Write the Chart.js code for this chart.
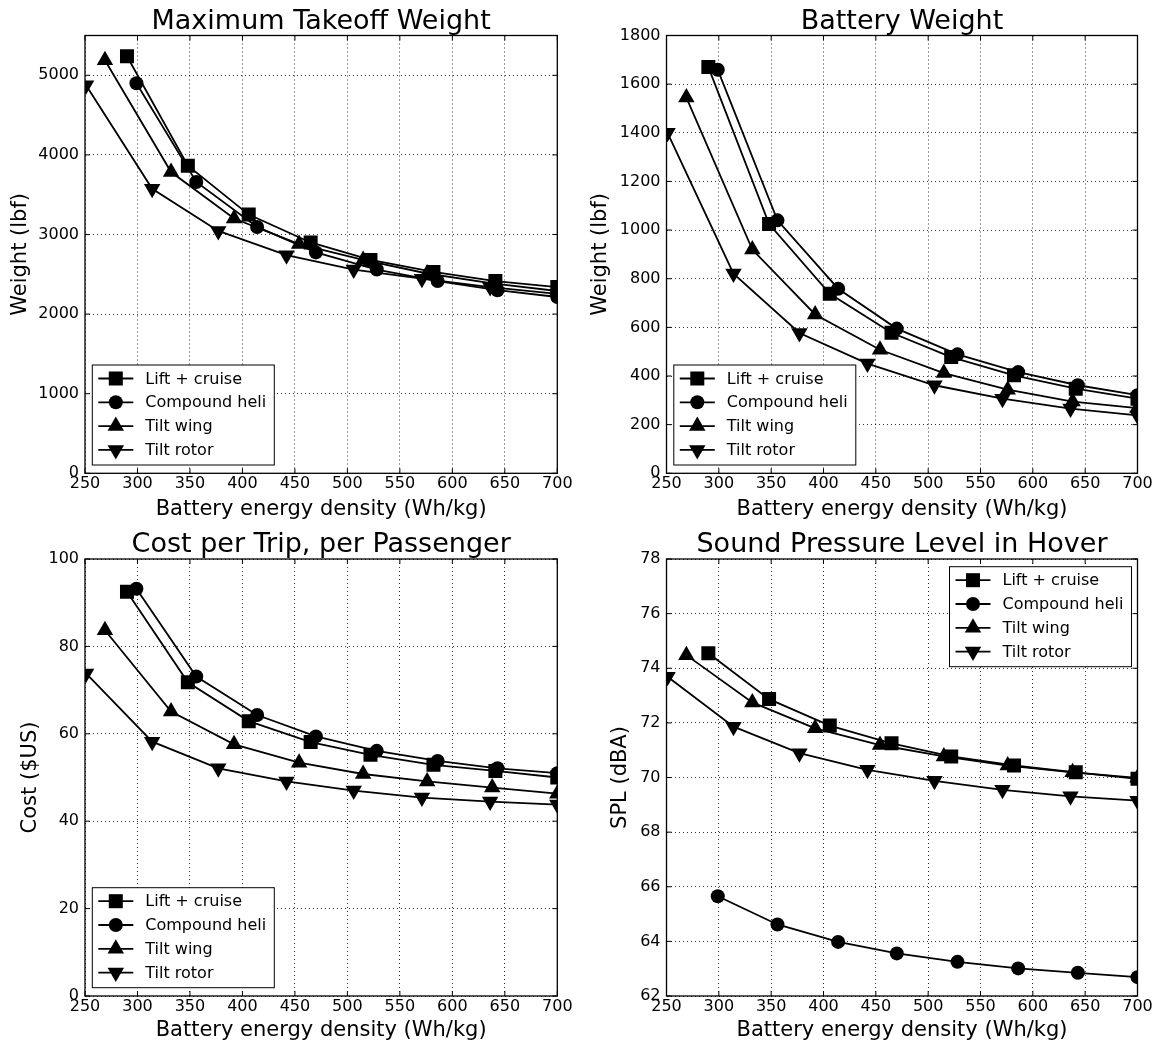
<!DOCTYPE html>
<html><head><meta charset="utf-8">
<script src="https://cdn.jsdelivr.net/npm/chart.js@4.4.1/dist/chart.umd.min.js"></script>
<style>
html,body{margin:0;padding:0;background:#fff;}
#wrap{position:relative;width:1158px;height:1046px;overflow:hidden;background:#fff;}
canvas{position:absolute;}
</style></head><body>
<div id="wrap">
<canvas id="c1" width="579" height="523" style="left:0px;top:0px"></canvas>
<canvas id="c2" width="579" height="523" style="left:579px;top:0px"></canvas>
<canvas id="c3" width="579" height="523" style="left:0px;top:523px"></canvas>
<canvas id="c4" width="579" height="523" style="left:579px;top:523px"></canvas>
</div>
<script>
// ---- data ----
const seriesNames = ['Lift + cruise', 'Compound heli', 'Tilt wing', 'Tilt rotor'];
const xLift  = [290, 348, 406, 465, 522, 582, 641, 700];
const xHeli  = [299, 356, 414, 470, 528, 586, 643, 700];
const xWing  = [269, 332, 392, 454, 515, 576, 638, 700];
const xRotor = [251, 314, 377, 442, 506, 571, 636, 700];
const xTicks = [250, 300, 350, 400, 450, 500, 550, 600, 650, 700];

const mtowLift  = [5240, 3865, 3250, 2900, 2680, 2530, 2415, 2340];
const mtowHeli  = [4900, 3660, 3095, 2775, 2560, 2415, 2300, 2215];
const mtowWing  = [5190, 3785, 3200, 2880, 2680, 2510, 2385, 2290];
const mtowRotor = [4875, 3575, 3045, 2740, 2560, 2445, 2340, 2255];
const mtowTicks = [0, 1000, 2000, 3000, 4000, 5000];

const battLift  = [1670, 1025, 738, 578, 478, 403, 348, 307];
const battHeli  = [1659, 1040, 759, 595, 489, 416, 362, 321];
const battWing  = [1545, 920, 653, 508, 412, 344, 295, 268];
const battRotor = [1400, 821, 577, 451, 362, 307, 266, 238];
const battTicks = [0, 200, 400, 600, 800, 1000, 1200, 1400, 1600, 1800];

const costLift  = [92.5, 71.8, 62.9, 58.1, 55.2, 52.9, 51.5, 50.0];
const costHeli  = [93.2, 73.1, 64.3, 59.4, 56.1, 53.8, 52.1, 51.0];
const costWing  = [83.7, 65.1, 57.6, 53.4, 50.8, 49.1, 47.7, 46.3];
const costRotor = [73.8, 58.2, 52.1, 49.1, 47.0, 45.4, 44.5, 43.8];
const costTicks = [0, 20, 40, 60, 80, 100];

const splLift  = [74.55, 72.87, 71.90, 71.25, 70.77, 70.44, 70.19, 69.95];
const splHeli  = [65.65, 64.62, 63.98, 63.56, 63.25, 63.01, 62.85, 62.69];
const splWing  = [74.48, 72.75, 71.80, 71.19, 70.77, 70.44, 70.19, 69.99];
const splRotor = [73.69, 71.86, 70.89, 70.28, 69.88, 69.55, 69.31, 69.15];
const splTicks = [62, 64, 66, 68, 70, 72, 74, 76, 78];

// ---- styling ----
const FONT = 'DejaVu Sans';
const markers = [
  {style: 'rect', r: 9.9, rot: 0},
  {style: 'circle', r: 7, rot: 0},
  {style: 'triangle', r: 9.5, rot: 0},
  {style: 'triangle', r: 9.5, rot: 180}
];

function drawShape(ctx, m, x, y) {
  ctx.beginPath();
  if (m.style === 'rect') {
    const s = Math.SQRT1_2 * m.r;
    ctx.rect(x - s, y - s, 2 * s, 2 * s);
  } else if (m.style === 'circle') {
    ctx.arc(x, y, m.r, 0, Math.PI * 2);
  } else {
    let rad = m.rot * Math.PI / 180;
    ctx.moveTo(x + Math.sin(rad) * m.r, y - Math.cos(rad) * m.r);
    rad += 2 * Math.PI / 3;
    ctx.lineTo(x + Math.sin(rad) * m.r, y - Math.cos(rad) * m.r);
    rad += 2 * Math.PI / 3;
    ctx.lineTo(x + Math.sin(rad) * m.r, y - Math.cos(rad) * m.r);
    ctx.closePath();
  }
  ctx.fill();
}

const frameTicks = {
  id: 'frameTicks',
  afterDatasetsDraw(chart, args, opts) {
    const {ctx, chartArea: a, scales: {x, y}} = chart;
    ctx.save();
    ctx.strokeStyle = '#000';
    ctx.lineWidth = 1;
    const L = 5;
    ctx.beginPath();
    x.ticks.forEach(t => {
      const px = x.getPixelForValue(t.value);
      ctx.moveTo(px, a.bottom); ctx.lineTo(px, a.bottom - L);
      ctx.moveTo(px, a.top); ctx.lineTo(px, a.top + L);
    });
    y.ticks.forEach(t => {
      const py = y.getPixelForValue(t.value);
      ctx.moveTo(a.left, py); ctx.lineTo(a.left + L, py);
      ctx.moveTo(a.right, py); ctx.lineTo(a.right - L, py);
    });
    ctx.stroke();
    ctx.lineWidth = 1.3;
    ctx.strokeRect(a.left, a.top, a.right - a.left, a.bottom - a.top);
    ctx.restore();
  },
  afterDraw(chart, args, opts) {
    const {ctx, chartArea: a} = chart;
    ctx.save();
    // title
    ctx.fillStyle = '#000';
    ctx.font = '27px "' + FONT + '"';
    ctx.textAlign = 'center';
    ctx.textBaseline = 'alphabetic';
    ctx.fillText(opts.title, (a.left + a.right) / 2, a.top - 7);
    // legend
    const W = 182, H = 100;
    let bx, by;
    if (opts.legend === 'lowerleft') { bx = a.left + 7.3; by = a.bottom - 8.3 - H; }
    else { bx = a.right - 6 - W; by = a.top + 7.7; }
    ctx.fillStyle = '#fff';
    ctx.fillRect(bx, by, W, H);
    ctx.strokeStyle = '#000';
    ctx.lineWidth = 1;
    ctx.strokeRect(bx, by, W, H);
    ctx.font = '16px "' + FONT + '"';
    ctx.textAlign = 'left';
    ctx.textBaseline = 'middle';
    seriesNames.forEach((name, i) => {
      const yy = by + 13.5 + i * 23.8;
      ctx.strokeStyle = '#000';
      ctx.lineWidth = 1.8;
      ctx.beginPath();
      ctx.moveTo(bx + 6, yy); ctx.lineTo(bx + 41, yy);
      ctx.stroke();
      ctx.fillStyle = '#000';
      drawShape(ctx, markers[i], bx + 23.5, yy);
      ctx.fillText(name, bx + 53, yy + 1);
    });
    ctx.restore();
  }
};

function makeChart(id, cfg) {
  const xs = [xLift, xHeli, xWing, xRotor];
  const datasets = cfg.ys.map((ys, i) => ({
    label: seriesNames[i],
    data: xs[i].map((xv, j) => ({x: xv, y: ys[j]})),
    borderColor: '#000',
    backgroundColor: '#000',
    borderWidth: 1.8,
    pointStyle: markers[i].style,
    pointRadius: markers[i].r,
    pointRotation: markers[i].rot,
    pointBorderWidth: 0,
    pointHoverRadius: markers[i].r,
    tension: 0,
    clip: 0,
    order: 4 - i
  }));
  return new Chart(document.getElementById(id), {
    type: 'line',
    data: {datasets},
    options: {
      responsive: false,
      animation: false,
      events: [],
      layout: {padding: {left: 0, top: cfg.top, right: cfg.right, bottom: 0}},
      plugins: {
        legend: {display: false},
        tooltip: {enabled: false},
        frameTicks: {title: cfg.title, legend: cfg.legend}
      },
      scales: {
        x: {
          type: 'linear', min: 250, max: 700,
          afterBuildTicks: s => { s.ticks = xTicks.map(v => ({value: v})); },
          afterFit: s => { s.height = cfg.xh; },
          grid: {color: '#000', lineWidth: 0.8, drawTicks: false},
          border: {display: false, dash: [1, 3]},
          ticks: {color: '#000', font: {family: FONT, size: 16}, padding: 1, maxRotation: 0, autoSkip: false,
                  callback: v => String(v)},
          title: {display: true, text: 'Battery energy density (Wh/kg)', color: '#000',
                  font: {family: FONT, size: 21}, padding: {top: 0, bottom: cfg.xtp}}
        },
        y: {
          type: 'linear', min: cfg.ymin, max: cfg.ymax,
          afterBuildTicks: s => { s.ticks = cfg.yticks.map(v => ({value: v})); },
          afterFit: s => { s.width = cfg.yw; },
          grid: {color: '#000', lineWidth: 0.8, drawTicks: false},
          border: {display: false, dash: [1, 3]},
          ticks: {color: '#000', font: {family: FONT, size: 16}, padding: 6, callback: v => String(v)},
          title: {display: true, text: cfg.ytitle, color: '#000',
                  font: {family: FONT, size: 21}, padding: {top: cfg.ytp, bottom: 0}}
        }
      }
    },
    plugins: [frameTicks]
  });
}

makeChart('c1', {ys: [mtowLift, mtowHeli, mtowWing, mtowRotor], yticks: mtowTicks, ymin: 0, ymax: 5500,
  title: 'Maximum Takeoff Weight', ytitle: 'Weight (lbf)', legend: 'lowerleft',
  top: 35.5, right: 21.7, xh: 49.7, yw: 85, xtp: 0.4, ytp: 8.4});
makeChart('c2', {ys: [battLift, battHeli, battWing, battRotor], yticks: battTicks, ymin: 0, ymax: 1800,
  title: 'Battery Weight', ytitle: 'Weight (lbf)', legend: 'lowerleft',
  top: 35.5, right: 20.5, xh: 49.7, yw: 87.5, xtp: 0.4, ytp: 9.4});
makeChart('c3', {ys: [costLift, costHeli, costWing, costRotor], yticks: costTicks, ymin: 0, ymax: 100,
  title: 'Cost per Trip, per Passenger', ytitle: 'Cost ($US)', legend: 'lowerleft',
  top: 36, right: 21.7, xh: 50, yw: 85, xtp: 2.4, ytp: 18.4});
makeChart('c4', {ys: [splLift, splHeli, splWing, splRotor], yticks: splTicks, ymin: 62, ymax: 78,
  title: 'Sound Pressure Level in Hover', ytitle: 'SPL (dBA)', legend: 'upperright',
  top: 36, right: 20.5, xh: 50, yw: 87.5, xtp: 2.4, ytp: 29.4});
</script>
</body></html>
